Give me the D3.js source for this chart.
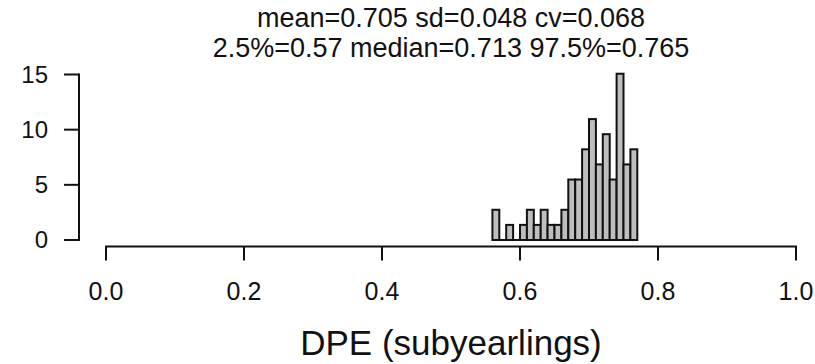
<!DOCTYPE html>
<html>
<head>
<meta charset="utf-8">
<script src="https://cdn.jsdelivr.net/npm/d3@7"></script>
<style>
  body { margin: 0; background: #fff; }
  text { font-family: "Liberation Sans", Arial, sans-serif; fill: #111; }
</style>
</head>
<body>
<svg id="chart" width="815" height="364"></svg>
<script>
// histogram bins (left edges, width 0.01) and density heights
const binStarts = [0.56, 0.57, 0.58, 0.59, 0.60, 0.61, 0.62, 0.63, 0.64, 0.65, 0.66,
                   0.67, 0.68, 0.69, 0.70, 0.71, 0.72, 0.73, 0.74, 0.75, 0.76];
const density = [2.74, 0, 1.37, 0, 1.37, 2.74, 1.37, 2.74, 1.37, 1.37, 2.74,
                 5.48, 5.48, 8.22, 10.96, 6.85, 9.59, 5.48, 15.07, 6.85, 8.22];
const binWidth = 0.01;
const xTicks = [0.0, 0.2, 0.4, 0.6, 0.8, 1.0];
const yTicks = [0, 5, 10, 15];
const titleLines = ["mean=0.705 sd=0.048 cv=0.068", "2.5%=0.57 median=0.713 97.5%=0.765"];
const xLabel = "DPE (subyearlings)";

const svg = d3.select("#chart");

const x = d3.scaleLinear().domain([0, 1]).range([106, 796]);
const y = d3.scaleLinear().domain([0, 15]).range([240, 74.5]);

const bins = binStarts.map((s, i) => ({ x0: s, x1: s + binWidth, h: density[i] }));

// bars (empty bins drawn as a flat outline, like R does)
const bars = svg.append("g");
bars.selectAll("rect")
    .data(bins.filter(d => d.h > 0))
    .enter()
    .append("rect")
    .attr("x", d => x(d.x0))
    .attr("y", d => y(d.h))
    .attr("width", d => x(d.x1) - x(d.x0))
    .attr("height", d => y(0) - y(d.h))
    .style("fill", "#bebebe")
    .style("stroke", "#111")
    .style("stroke-width", 2);
bars.selectAll("line")
    .data(bins.filter(d => d.h == 0))
    .enter()
    .append("line")
    .attr("x1", d => x(d.x0))
    .attr("x2", d => x(d.x1))
    .attr("y1", y(0))
    .attr("y2", y(0))
    .style("stroke", "#111")
    .style("stroke-width", 2);

// x axis (R style, offset below)
const xAxis = svg.append("g").attr("transform", "translate(0,246.5)");
xAxis.append("line")
    .attr("x1", x(0)).attr("x2", x(1))
    .attr("y1", 0).attr("y2", 0)
    .style("stroke", "#111").style("stroke-width", 2)
    .style("stroke-linecap", "square");
xAxis.selectAll("line.tick")
    .data(xTicks)
    .enter()
    .append("line")
    .attr("class", "tick")
    .attr("x1", d => x(d)).attr("x2", d => x(d))
    .attr("y1", 0).attr("y2", 14)
    .style("stroke", "#111").style("stroke-width", 2);
xAxis.selectAll("text")
    .data(xTicks)
    .enter()
    .append("text")
    .attr("x", d => x(d))
    .attr("y", 53)
    .attr("text-anchor", "middle")
    .style("font-size", "25px")
    .text(d => d3.format(".1f")(d));

// y axis
const yAxis = svg.append("g").attr("transform", "translate(79,0)");
yAxis.append("line")
    .attr("x1", 0).attr("x2", 0)
    .attr("y1", y(0)).attr("y2", y(15))
    .style("stroke", "#111").style("stroke-width", 2)
    .style("stroke-linecap", "square");
yAxis.selectAll("line.tick")
    .data(yTicks)
    .enter()
    .append("line")
    .attr("class", "tick")
    .attr("x1", -15).attr("x2", 0)
    .attr("y1", d => y(d)).attr("y2", d => y(d))
    .style("stroke", "#111").style("stroke-width", 2);
yAxis.selectAll("text")
    .data(yTicks)
    .enter()
    .append("text")
    .attr("x", -31)
    .attr("y", d => y(d))
    .attr("dy", "0.35em")
    .attr("text-anchor", "end")
    .style("font-size", "24px")
    .text(d => d);

// title
svg.append("g")
    .selectAll("text")
    .data(titleLines)
    .enter()
    .append("text")
    .attr("x", (x(0) + x(1)) / 2)
    .attr("y", (d, i) => 27 + i * 29.5)
    .attr("text-anchor", "middle")
    .style("font-size", "27px")
    .text(d => d);

// x label
svg.append("text")
    .attr("x", (x(0) + x(1)) / 2)
    .attr("y", 355)
    .attr("text-anchor", "middle")
    .style("font-size", "35px")
    .text(xLabel);
</script>
</body>
</html>
